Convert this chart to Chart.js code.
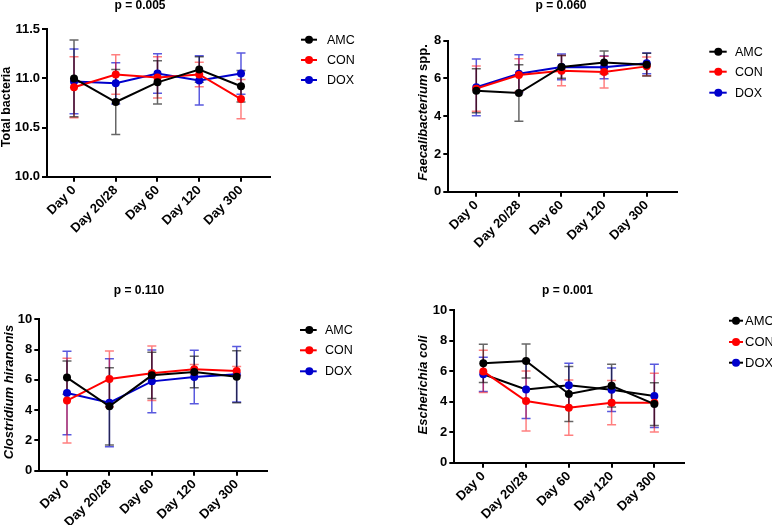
<!DOCTYPE html>
<html>
<head>
<meta charset="utf-8">
<script src="https://cdn.jsdelivr.net/npm/chart.js@4/dist/chart.umd.min.js"></script>
<style>
  html, body { margin: 0; padding: 0; background: #fff; }
  body { width: 772px; height: 525px; position: relative; overflow: hidden; }
  canvas { position: absolute; display: block; }
</style>
</head>
<body>
<canvas id="c1" width="386" height="260" style="left:0;top:0"></canvas>
<canvas id="c2" width="386" height="260" style="left:386px;top:0"></canvas>
<canvas id="c3" width="386" height="265" style="left:0;top:260px"></canvas>
<canvas id="c4" width="386" height="265" style="left:386px;top:260px"></canvas>
<script>
// ---------- DATA ----------
const days = ['Day 0', 'Day 20/28', 'Day 60', 'Day 120', 'Day 300'];
const groups = ['AMC', 'CON', 'DOX'];

// Total bacteria (p = 0.005)
const totAMC   = [11.00, 10.76, 10.96, 11.09, 10.92];
const totAMCsd = [0.39, 0.33, 0.22, 0.13, 0.16];
const totCON   = [10.91, 11.04, 11.01, 11.04, 10.79];
const totCONsd = [0.31, 0.20, 0.21, 0.125, 0.20];
const totDOX   = [10.97, 10.95, 11.05, 10.98, 11.05];
const totDOXsd = [0.33, 0.21, 0.20, 0.25, 0.21];

// Faecalibacterium spp. (p = 0.060)
const faeAMC   = [5.35, 5.23, 6.61, 6.85, 6.73];
const faeAMCsd = [1.17, 1.50, 0.60, 0.60, 0.60];
const faeCON   = [5.46, 6.18, 6.41, 6.34, 6.64];
const faeCONsd = [1.20, 0.87, 0.80, 0.84, 0.50];
const faeDOX   = [5.53, 6.25, 6.61, 6.59, 6.80];
const faeDOXsd = [1.50, 1.00, 0.68, 0.60, 0.55];

// Clostridium hiranonis (p = 0.110)
const cloAMC   = [6.15, 4.25, 6.30, 6.52, 6.21];
const cloAMCsd = [1.10, 2.55, 1.53, 1.04, 1.72];
const cloCON   = [4.63, 6.06, 6.43, 6.70, 6.59];
const cloCONsd = [2.80, 1.85, 1.80, 0.32, 0.30];
const cloDOX   = [5.13, 4.49, 5.90, 6.19, 6.37];
const cloDOXsd = [2.76, 2.90, 2.07, 1.76, 1.83];

// Escherichia coli (p = 0.001)
const ecoAMC   = [6.51, 6.66, 4.50, 5.04, 3.84];
const ecoAMCsd = [1.25, 1.12, 1.80, 1.40, 1.40];
const ecoCON   = [5.98, 4.04, 3.60, 3.93, 3.93];
const ecoCONsd = [1.38, 1.97, 1.81, 1.45, 1.92];
const ecoDOX   = [5.79, 4.80, 5.07, 4.78, 4.37];
const ecoDOXsd = [1.12, 1.90, 1.44, 1.42, 2.07];

const titles = ['p = 0.005', 'p = 0.060', 'p = 0.110', 'p = 0.001'];

// ---------- STYLE ----------
const FONT = "'Liberation Sans', Arial, Helvetica, sans-serif";
const COL = { AMC: '#000000', CON: '#ff0000', DOX: '#0000cc' };
const ERR = { AMC: 'rgba(0,0,0,0.6)', CON: 'rgba(255,0,0,0.5)', DOX: 'rgba(0,0,204,0.65)' };

const panels = [
  { id: 'c1', title: titles[0], series: [[totAMC, totAMCsd], [totCON, totCONsd], [totDOX, totDOXsd]],
    yMin: 10, yMax: 11.5, yStep: 0.5, dec: 1, xMin: -0.647, xMax: 4.695,
    area: { l: 47, r: 270, t: 29.3, b: 176.7 },
    titlePos: [140, 6], ylab: [['Total bacteria', 'bold 12.5px']], ylabPos: [6.7, 107],
    leg: { x0: 301, x1: 317, dot: 309, tx: 327, ys: [39.7, 60, 80], font: 12.5 }, doxLine: COL.DOX },
  { id: 'c2', title: titles[1], series: [[faeAMC, faeAMCsd], [faeCON, faeCONsd], [faeDOX, faeDOXsd]],
    yMin: 0, yMax: 8, yStep: 2, dec: 0, xMin: -0.657, xMax: 4.704,
    area: { l: 62.3, r: 290.7, t: 40.7, b: 191.7 },
    titlePos: [175, 6], ylab: [['Faecalibacterium', 'italic bold 13px'], [' spp.', 'bold 13px']], ylabPos: [37.3, 112.5],
    leg: { x0: 323.3, x1: 340.7, dot: 332.3, tx: 349, ys: [51.7, 71.7, 92.7], font: 12.5 }, doxLine: COL.DOX },
  { id: 'c3', title: titles[2], series: [[cloAMC, cloAMCsd], [cloCON, cloCONsd], [cloDOX, cloDOXsd]],
    yMin: 0, yMax: 10, yStep: 2, dec: 0, xMin: -0.653, xMax: 4.715,
    area: { l: 39.3, r: 267, t: 59.3, b: 210.7 },
    titlePos: [139, 30.7], ylab: [['Clostridium hiranonis', 'italic bold 13px']], ylabPos: [9, 132],
    leg: { x0: 300, x1: 316.7, dot: 309.3, tx: 325, ys: [70, 90.3, 111.3], font: 12.5 }, doxLine: COL.DOX },
  { id: 'c4', title: titles[3], series: [[ecoAMC, ecoAMCsd], [ecoCON, ecoCONsd], [ecoDOX, ecoDOXsd]],
    yMin: 0, yMax: 10, yStep: 2, dec: 0, xMin: -0.678, xMax: 4.70,
    area: { l: 68.3, r: 298.3, t: 50, b: 202.7 },
    titlePos: [181.5, 30.7], ylab: [['Escherichia coli', 'italic bold 13px']], ylabPos: [37.3, 125],
    leg: { x0: 343, x1: 357, dot: 350, tx: 359, ys: [60.7, 82, 102.7], font: 13 }, doxLine: '#000000' }
];

// error bars drawn beneath the lines
const errorBars = {
  id: 'errorBars',
  beforeDatasetsDraw(chart) {
    const ctx = chart.ctx, xs = chart.scales.x, ys = chart.scales.y;
    const dsets = chart.data.datasets;
    ctx.save();
    for (let i = dsets.length - 1; i >= 0; i--) {
      const ds = dsets[i];
      ctx.strokeStyle = ds.errColor;
      ctx.lineWidth = 1.5;
      ds.data.forEach((p, j) => {
        const sd = ds.sd[j];
        const x = xs.getPixelForValue(p.x);
        const yT = ys.getPixelForValue(p.y + sd);
        const yB = ys.getPixelForValue(p.y - sd);
        ctx.beginPath();
        ctx.moveTo(x, yT); ctx.lineTo(x, yB);
        ctx.moveTo(x - 4.5, yT); ctx.lineTo(x + 4.5, yT);
        ctx.moveTo(x - 4.5, yB); ctx.lineTo(x + 4.5, yB);
        ctx.stroke();
      });
    }
    ctx.restore();
  }
};

// title, axis title and legend
const decor = {
  id: 'decor',
  afterDraw(chart) {
    const cfg = chart.options.plugins.decor;
    const ctx = chart.ctx;
    ctx.save();
    ctx.fillStyle = '#000';
    // title
    ctx.font = 'bold 12px ' + FONT;
    ctx.textAlign = 'center';
    ctx.textBaseline = 'middle';
    ctx.fillText(cfg.title, cfg.titlePos[0], cfg.titlePos[1]);
    // y axis title (rotated, mixed fonts)
    ctx.save();
    ctx.translate(cfg.ylabPos[0], cfg.ylabPos[1]);
    ctx.rotate(-Math.PI / 2);
    ctx.textAlign = 'left';
    let total = 0;
    cfg.ylab.forEach(([t, f]) => { ctx.font = f + ' ' + FONT; total += ctx.measureText(t).width; });
    let x = -total / 2;
    cfg.ylab.forEach(([t, f]) => { ctx.font = f + ' ' + FONT; ctx.fillText(t, x, 0); x += ctx.measureText(t).width; });
    ctx.restore();
    // legend
    const L = cfg.leg;
    chart.data.datasets.forEach((ds, i) => {
      const y = L.ys[i];
      ctx.strokeStyle = ds.borderColor;
      ctx.lineWidth = 2;
      ctx.beginPath(); ctx.moveTo(L.x0, y); ctx.lineTo(L.x1, y); ctx.stroke();
      ctx.fillStyle = ds.pointBackgroundColor;
      ctx.beginPath(); ctx.arc(L.dot, y, 4, 0, Math.PI * 2); ctx.fill();
      ctx.fillStyle = '#000';
      ctx.font = L.font + 'px ' + FONT;
      ctx.textAlign = 'left';
      ctx.fillText(ds.label, L.tx, y + 0.5);
    });
    ctx.restore();
  }
};

Chart.defaults.font.family = FONT;

panels.forEach(P => {
  const canvas = document.getElementById(P.id);
  const W = canvas.width, H = canvas.height;
  const datasets = groups.map((g, gi) => {
    const [vals, sds] = P.series[gi];
    const lineCol = g === 'DOX' ? P.doxLine : COL[g];
    return {
      label: g,
      data: vals.map((v, i) => ({ x: i, y: v })),
      sd: sds,
      borderColor: lineCol,
      backgroundColor: COL[g],
      pointBackgroundColor: COL[g],
      pointBorderColor: COL[g],
      pointRadius: 4,
      pointBorderWidth: 0,
      borderWidth: 2,
      errColor: ERR[g],
      tension: 0,
      fill: false
    };
  });
  new Chart(canvas, {
    type: 'line',
    data: { datasets },
    options: {
      responsive: false,
      animation: false,
      devicePixelRatio: 1,
      layout: { padding: { left: 0, top: P.area.t, right: W - P.area.r, bottom: 0 } },
      plugins: {
        legend: { display: false },
        title: { display: false },
        tooltip: { enabled: false },
        decor: { title: P.title, titlePos: P.titlePos, ylab: P.ylab, ylabPos: P.ylabPos, leg: P.leg }
      },
      scales: {
        x: {
          type: 'linear',
          min: P.xMin, max: P.xMax,
          afterBuildTicks: s => { s.ticks = days.map((d, i) => ({ value: i })); },
          afterFit: s => { s.height = H - P.area.b; },
          grid: { display: true, drawOnChartArea: false, drawTicks: true, tickLength: 5, lineWidth: 2, color: '#000' },
          border: { display: true, color: '#000', width: 2 },
          ticks: {
            autoSkip: false, minRotation: 45, maxRotation: 45, padding: 1,
            color: '#000', font: { size: 13, weight: 'bold' },
            callback: v => days[Math.round(v)]
          }
        },
        y: {
          min: P.yMin, max: P.yMax,
          afterFit: s => { s.width = P.area.l; },
          grid: { display: true, drawOnChartArea: false, drawTicks: true, tickLength: 5, lineWidth: 2, color: '#000' },
          border: { display: true, color: '#000', width: 2 },
          ticks: {
            stepSize: P.yStep, padding: 2, color: '#000', font: { size: 13, weight: 'bold' },
            callback: v => Number(v).toFixed(P.dec)
          }
        }
      }
    },
    plugins: [errorBars, decor]
  });
});
</script>
</body>
</html>
